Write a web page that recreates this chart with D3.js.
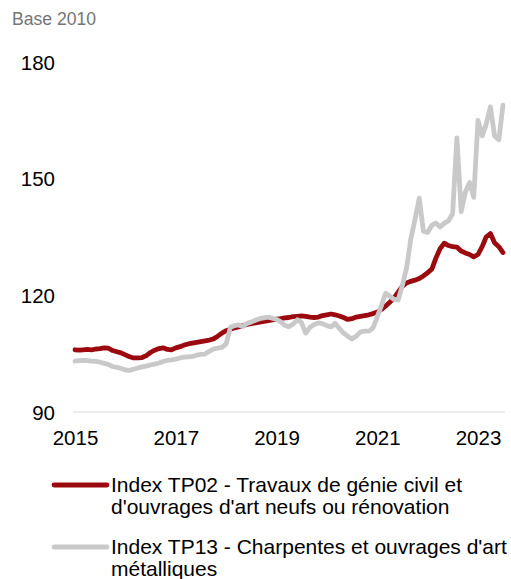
<!DOCTYPE html>
<html>
<head>
<meta charset="utf-8">
<script src="https://cdn.jsdelivr.net/npm/d3@7"></script>
<style>
  html, body { margin: 0; padding: 0; background: #fff; }
  svg { display: block; font-family: "Liberation Sans", Arial, sans-serif; }
</style>
</head>
<body>
<svg id="chart" width="511" height="579"></svg>
<script>
// ---- Data (monthly, Jan 2015 .. Jul 2023) ----
const startMonth = "2015-01";
const tp02 = [
  106.0, 105.9, 106.0, 106.1, 106.0, 106.2, 106.3, 106.5, 106.4, 105.8, 105.5, 105.2,
  104.7, 104.2, 103.9, 103.9, 104.0, 104.5, 105.3, 105.9, 106.3, 106.5, 106.1, 106.0,
  106.5, 106.8, 107.2, 107.5, 107.7, 107.9, 108.1, 108.3, 108.5, 108.8, 109.5, 110.3,
  110.9, 111.3, 111.6, 111.9, 112.2, 112.5, 112.7, 112.9, 113.1, 113.3, 113.5, 113.7,
  113.9, 114.0, 114.2, 114.3, 114.5, 114.6, 114.7, 114.6, 114.4, 114.3, 114.4, 114.8,
  115.0, 115.2, 115.0, 114.7, 114.3, 113.8, 114.0, 114.4, 114.6, 114.8, 115.0, 115.3,
  115.7, 116.4, 117.2, 118.2, 119.3, 120.8, 122.3, 123.2, 123.6, 123.9, 124.3, 125.0,
  125.8, 126.8, 129.5, 132.0, 133.4, 132.8, 132.5, 132.4, 131.4, 130.9, 130.5, 129.9,
  130.5, 132.6, 135.0, 135.9, 133.5, 132.5, 131.0
];
const tp13 = [
  103.1, 103.2, 103.3, 103.2, 103.1, 103.0, 102.8, 102.5, 102.2, 101.7, 101.5, 101.2,
  100.8, 100.7, 101.0, 101.3, 101.6, 101.8, 102.1, 102.3, 102.6, 103.0, 103.3, 103.4,
  103.6, 103.9, 104.1, 104.2, 104.3, 104.6, 104.8, 104.9, 105.6, 106.2, 106.4, 106.6,
  107.5, 111.8, 112.2, 112.4, 112.0, 112.8, 113.1, 113.6, 114.0, 114.2, 114.4, 114.1,
  113.8, 113.2, 112.3, 111.9, 112.6, 113.7, 113.0, 110.3, 111.8, 112.5, 112.9, 112.7,
  112.2, 111.9, 112.8, 111.5, 110.3, 109.5, 108.8, 109.5, 110.6, 110.8, 110.8, 111.6,
  114.5, 117.5, 120.5, 119.8, 119.0, 118.8, 122.5, 127.0, 134.5, 139.5, 145.0, 136.5,
  136.2, 138.0, 138.6, 137.6, 138.5, 139.2, 141.0, 160.5, 141.5, 146.5, 149.0, 145.2,
  165.0, 161.0, 164.0, 168.5, 161.0, 160.0, 168.9
];
const yTicks = [90, 120, 150, 180];
const xTickYears = [2015, 2017, 2019, 2021, 2023];
const seriesNames = [
  ["Index TP02 - Travaux de génie civil et", "d'ouvrages d'art neufs ou rénovation"],
  ["Index TP13 - Charpentes et ouvrages d'art", "métalliques"]
];
const seriesColors = ["#9b0a0e", "#c9c9c9"];
const unitLabel = "Base 2010";

// ---- Setup ----
const svg = d3.select("#chart");
const parseMonth = d3.timeParse("%Y-%m");
const start = parseMonth(startMonth);
const dates = tp02.map((_, i) => d3.timeMonth.offset(start, i));

const x = d3.scaleTime()
  .domain([new Date(2015, 0, 1), new Date(2023, 0, 1)])
  .range([75, 478]);
const y = d3.scaleLinear()
  .domain([90, 180])
  .range([412, 62]);

// unit label
svg.append("text")
  .attr("x", 12).attr("y", 18.5)
  .attr("dy", "0.35em")
  .attr("fill", "#767676")
  .attr("font-size", 17.6)
  .text(unitLabel);

// baseline gridline at 90
svg.append("line")
  .attr("x1", 73).attr("x2", 505)
  .attr("y1", y(90)).attr("y2", y(90))
  .attr("stroke", "#d9d9d9").attr("stroke-width", 1.2);

// y axis
const yAxis = d3.axisLeft(y).tickValues(yTicks).tickSize(0).tickPadding(0);
const gy = svg.append("g").attr("transform", "translate(55,0)").call(yAxis);
gy.select(".domain").remove();
gy.selectAll("text").attr("font-size", 20.5).attr("fill", "#000")
  .attr("font-family", "Liberation Sans, Arial, sans-serif").attr("dy", "0.35em");

// x axis
const xAxis = d3.axisBottom(x)
  .tickValues(xTickYears.map(yy => new Date(yy, 0, 1)))
  .tickFormat(d3.timeFormat("%Y")).tickSize(0).tickPadding(0);
const gx = svg.append("g").attr("transform", "translate(0,438)").call(xAxis);
gx.select(".domain").remove();
gx.selectAll("text").attr("font-size", 20.5).attr("fill", "#000")
  .attr("font-family", "Liberation Sans, Arial, sans-serif").attr("dy", "0.35em");

// lines
const line = d3.line()
  .x((d, i) => x(dates[i]))
  .y(d => y(d))
  .curve(d3.curveLinear);

[tp02, tp13].forEach((s, k) => {
  svg.append("path")
    .datum(s)
    .attr("d", line)
    .attr("fill", "none")
    .attr("stroke", seriesColors[k])
    .attr("stroke-width", 4.8)
    .attr("stroke-linejoin", "round")
    .attr("stroke-linecap", "round");
});

// legend
const legendY = [485, 547];
seriesNames.forEach((lines, k) => {
  const g = svg.append("g");
  g.append("line")
    .attr("x1", 54).attr("x2", 107)
    .attr("y1", legendY[k]).attr("y2", legendY[k])
    .attr("stroke", seriesColors[k]).attr("stroke-width", 4.8)
    .attr("stroke-linecap", "round");
  lines.forEach((t, j) => {
    g.append("text")
      .attr("x", 111).attr("y", legendY[k] + j * 22)
      .attr("dy", "0.35em")
      .attr("font-size", 21)
      .attr("fill", "#000")
      .text(t);
  });
});
</script>
</body>
</html>
